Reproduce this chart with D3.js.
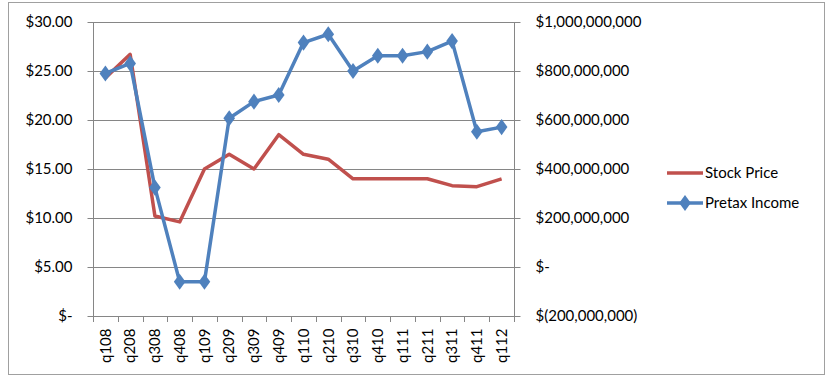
<!DOCTYPE html>
<html><head><meta charset="utf-8">
<script src="https://cdn.jsdelivr.net/npm/d3@7"></script>
<style>
body{margin:0;background:#fff;}
svg text{font-family:Lato,"Open Sans",sans-serif;fill:#000;}
</style></head>
<body><svg id="c" width="834" height="379"></svg>
<script>
const categories=["q108","q208","q308","q408","q109","q209","q309","q409","q110","q210","q310","q410","q111","q211","q311","q411","q112"];
const stockPrice=[24.3,26.7,10.2,9.6,15.0,16.5,15.0,18.5,16.5,16.0,14.0,14.0,14.0,14.0,13.3,13.2,14.0];
const pretaxIncome=[790e6,831e6,324e6,-60e6,-60e6,607e6,675e6,702e6,916e6,950e6,800e6,862e6,862e6,879e6,922e6,552e6,571e6];
const leftTicks=[0,5,10,15,20,25,30];
const rightTicks=[-200e6,0,200e6,400e6,600e6,800e6,1000e6];
const seriesNames=["Stock Price","Pretax Income"];

const svg=d3.select("#c");
const L=93,R=514,T=22,B=316;
const red="#C0504D",blue="#4F81BD",grid="#868686";
const FS="15px";

svg.append("rect").attr("x",8.5).attr("y",2.5).attr("width",816).attr("height",372).attr("fill","none").attr("stroke","#a0a0a0").attr("stroke-width",1);

const x=d3.scaleBand().domain(categories).range([L,R]);
const yL=d3.scaleLinear().domain([0,30]).range([B,T]);
const yR=d3.scaleLinear().domain([-200e6,1000e6]).range([B,T]);

// gridlines
svg.append("g").selectAll("line").data(leftTicks).join("line")
 .attr("x1",L).attr("x2",R).attr("y1",d=>Math.round(yL(d))+0.5).attr("y2",d=>Math.round(yL(d))+0.5)
 .attr("stroke",grid).attr("stroke-width",1);

const fmtL=d=>d===0?"$-":"$"+d3.format(".2f")(d);
const fmtR=d=>d===0?"$-":(d<0?"$("+d3.format(",")(-d)+")":"$"+d3.format(",")(d));

const gl=svg.append("g").attr("transform",`translate(${L+0.5},0)`)
 .call(d3.axisLeft(yL).tickValues(leftTicks).tickFormat(fmtL).tickSize(6).tickPadding(15));
gl.selectAll("text").attr("font-size",FS);
const gr=svg.append("g").attr("transform",`translate(${R+0.5},0)`)
 .call(d3.axisRight(yR).tickValues(rightTicks).tickFormat(fmtR).tickSize(6).tickPadding(15));
gr.selectAll("text").attr("font-size",FS);

const gx=svg.append("g").attr("transform",`translate(0,${B+0.5})`)
 .call(d3.axisBottom(x).tickSize(0).tickFormat(d=>d));
gx.selectAll(".tick text").attr("font-size",FS).attr("transform","rotate(-90)")
 .attr("text-anchor","end").attr("dy","0.35em").attr("x",-12).attr("y",0);
// category boundary ticks
svg.append("g").selectAll("line").data(categories.concat(["_end"])).join("line")
 .attr("x1",(d,i)=>Math.round(L+i*x.step())+0.5).attr("x2",(d,i)=>Math.round(L+i*x.step())+0.5)
 .attr("y1",B).attr("y2",B+6).attr("stroke",grid);
gl.selectAll(".tick line").attr("stroke",grid);
gr.selectAll(".tick line").attr("stroke",grid);
gl.select(".domain").remove();gr.select(".domain").remove();gx.select(".domain").remove();
svg.append("line").attr("x1",L+0.5).attr("x2",L+0.5).attr("y1",T).attr("y2",B).attr("stroke",grid);
svg.append("line").attr("x1",R+0.5).attr("x2",R+0.5).attr("y1",T).attr("y2",B).attr("stroke",grid);
svg.append("line").attr("x1",L).attr("x2",R).attr("y1",B+0.5).attr("y2",B+0.5).attr("stroke",grid);

const cx=d=>x(d)+x.bandwidth()/2;
const lineS=d3.line().x((d,i)=>cx(categories[i])).y(d=>yL(d));
const lineP=d3.line().x((d,i)=>cx(categories[i])).y(d=>yR(d));
svg.append("path").attr("d",lineS(stockPrice)).attr("fill","none").attr("stroke",red).attr("stroke-width",3.5).attr("stroke-linejoin","round");
svg.append("path").attr("d",lineP(pretaxIncome)).attr("fill","none").attr("stroke",blue).attr("stroke-width",3.5).attr("stroke-linejoin","round");
const diamond=d3.symbol().type(d3.symbolDiamond).size(75);
svg.append("g").selectAll("path").data(pretaxIncome).join("path")
 .attr("d",diamond).attr("transform",(d,i)=>`translate(${cx(categories[i])},${yR(d)}) scale(1.25,1)`).attr("fill",blue);

// legend
const lg=svg.append("g");
[[red,173],[blue,203]].forEach(([c,y],i)=>{
 lg.append("line").attr("x1",667).attr("x2",703).attr("y1",y).attr("y2",y).attr("stroke",c).attr("stroke-width",3.5);
 if(i===1) lg.append("path").attr("d",diamond).attr("transform",`translate(685,${y}) scale(1.25,1)`).attr("fill",c);
 lg.append("text").attr("x",705).attr("y",y).attr("dy","0.35em").attr("font-size",FS).text(seriesNames[i]);
});
</script></body></html>
